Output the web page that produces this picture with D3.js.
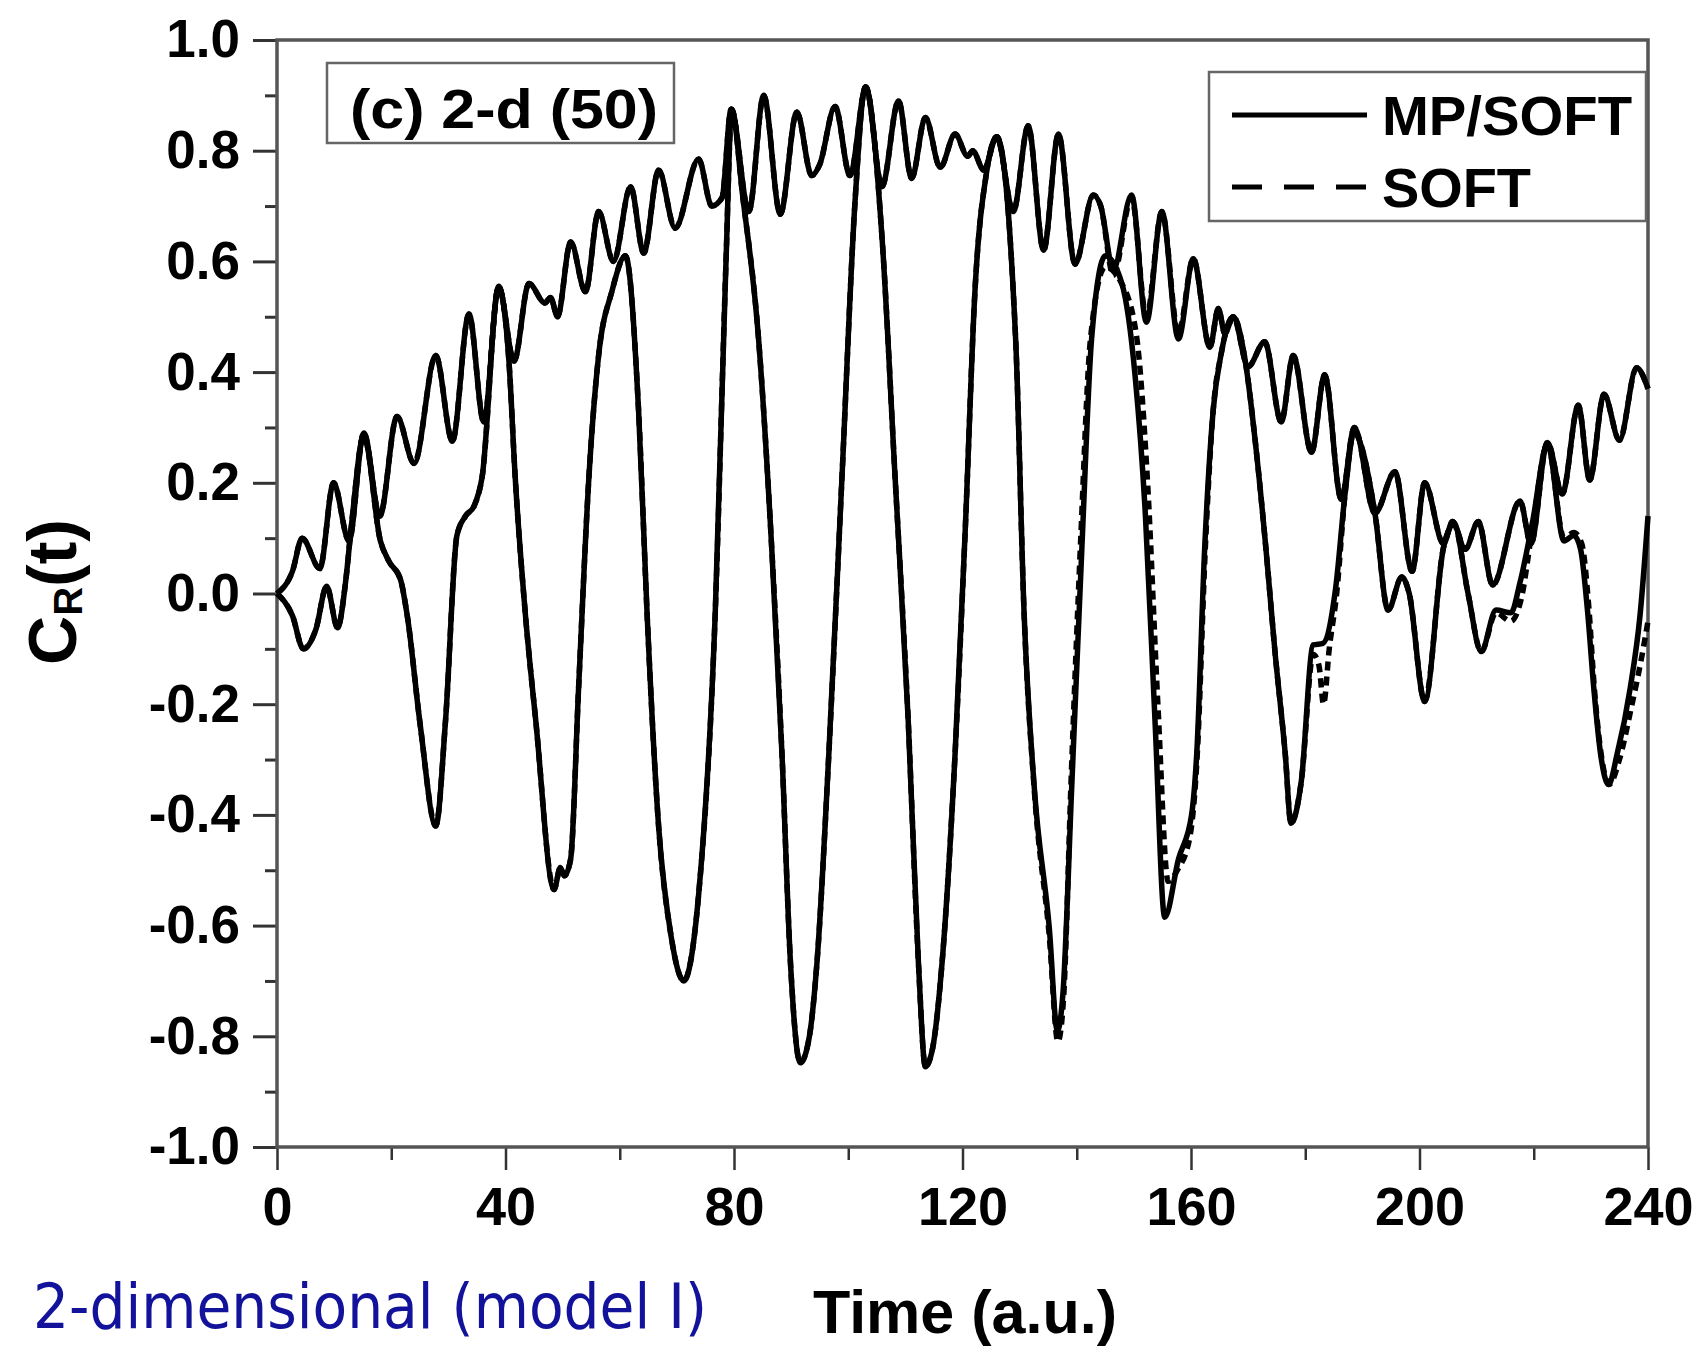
<!DOCTYPE html>
<html>
<head>
<meta charset="utf-8">
<script src="https://cdn.jsdelivr.net/npm/d3@7"></script>
<style>
  html, body { margin: 0; padding: 0; background: #fff; }
  svg { display: block; }
</style>
</head>
<body>
<svg id="chart" width="1704" height="1346"></svg>
<script>
// ---------------- data (time in a.u., value C_R) ----------------
const seriesNames = ["MP/SOFT", "SOFT"];
const panelLabel = "(c) 2-d (50)";
const xAxisTitle = "Time (a.u.)";
const captionText = "2-dimensional (model I)";

const xTickValues = [0, 40, 80, 120, 160, 200, 240];
const xMinorTicks = [20, 60, 100, 140, 180, 220];
const yTickValues = [-1.0, -0.8, -0.6, -0.4, -0.2, 0.0, 0.2, 0.4, 0.6, 0.8, 1.0];
const yTickLabels = ["-1.0", "-0.8", "-0.6", "-0.4", "-0.2", "0.0", "0.2", "0.4", "0.6", "0.8", "1.0"];
const yMinorTicks = [-0.9, -0.7, -0.5, -0.3, -0.1, 0.1, 0.3, 0.5, 0.7, 0.9];

// MP/SOFT: slowly varying upper curve
const mpSoftUpper = [[0,0],[2.7,0.04],[4.4,0.10],[7.5,0.045],[9.9,0.20],[12.6,0.095],[15.2,0.29],[18.0,0.14],[21.0,0.32],[24.0,0.235],[27.8,0.43],[30.7,0.275],[33.6,0.505],[36.2,0.31],[38.8,0.555],[41.5,0.42],[44.1,0.56],[46.9,0.525],[47.9,0.535],[49.1,0.50],[51.4,0.635],[54.0,0.545],[56.3,0.69],[58.9,0.60],[61.9,0.735],[64.2,0.615],[66.8,0.765],[69.7,0.66],[73.8,0.785],[76.1,0.70],[77.9,0.715],[79.5,0.875],[82.6,0.69],[85.2,0.90],[88.1,0.685],[91.0,0.87],[93.6,0.755],[95.0,0.775],[97.7,0.88],[100.3,0.755],[103.1,0.915],[105.9,0.735],[108.8,0.89],[111.1,0.75],[113.5,0.86],[116.1,0.77],[118.7,0.83],[120.9,0.79],[121.8,0.80],[123.7,0.765],[126.0,0.825],[128.9,0.69],[131.5,0.845],[134.2,0.62],[136.8,0.83],[139.7,0.595],[142.9,0.72],[144.2,0.70],[146.4,0.585],[149.6,0.72],[152.2,0.49],[154.9,0.69],[157.8,0.46],[160.4,0.605],[163.3,0.445],[164.8,0.515],[165.9,0.47],[167.4,0.50],[170.0,0.41],[172.9,0.455],[175.8,0.31],[177.9,0.43],[181.1,0.255],[183.4,0.395],[186.3,0.17],[188.6,0.30],[192.2,0.145],[195.7,0.22],[198.7,0.04],[200.9,0.20],[204.2,0.09],[205.8,0.13],[208.0,0.08],[210.3,0.13],[212.8,0.015],[217.6,0.167],[219.5,0.09],[222.4,0.273],[225.0,0.18],[227.8,0.34],[229.8,0.205],[232.3,0.36],[235.0,0.277],[238.0,0.408],[240,0.37]];

// MP/SOFT: strongly oscillating curve
const mpSoftLower = [[0,0],[2.7,-0.04],[4.6,-0.10],[6.8,-0.065],[8.7,0.013],[10.6,-0.062],[12.0,0.02],[13.0,0.12],[15.2,0.285],[18.1,0.095],[19.6,0.058],[21.6,0.026],[22.8,-0.04],[25.1,-0.24],[27.8,-0.42],[29.5,-0.23],[31.5,0.105],[33.0,0.14],[34.5,0.158],[35.9,0.21],[38.8,0.553],[40.6,0.42],[41.7,0.21],[43.5,-0.04],[45.3,-0.23],[48.5,-0.535],[49.6,-0.495],[50.3,-0.51],[51.4,-0.48],[52.8,-0.17],[54.6,0.21],[56.3,0.43],[58.6,0.545],[61.0,0.61],[63.3,0.33],[64.8,-0.04],[66.8,-0.42],[69.0,-0.62],[71.2,-0.70],[73.8,-0.545],[76.7,-0.04],[78.6,0.60],[79.6,0.875],[81.5,0.72],[84.3,0.46],[86.6,0.083],[88.4,-0.29],[89.9,-0.67],[91.6,-0.848],[93.2,-0.80],[94.5,-0.67],[96.6,-0.29],[98.9,0.21],[101.2,0.71],[103.0,0.915],[105.9,0.645],[108.2,0.21],[110.5,-0.23],[112.3,-0.67],[113.5,-0.855],[114.8,-0.82],[116.4,-0.67],[118.7,-0.29],[120.5,0.12],[122.2,0.55],[124.2,0.76],[126.0,0.825],[129.3,0.46],[130.8,-0.04],[132.6,-0.355],[135.2,-0.605],[136.6,-0.79],[137.6,-0.72],[139.1,-0.355],[140.9,0.083],[142.6,0.46],[145.0,0.61],[147.9,0.56],[150.2,0.395],[152.0,0.145],[153.7,-0.23],[155.4,-0.585],[157.8,-0.48],[160.1,-0.40],[161.0,-0.29],[162.4,0.083],[163.9,0.333],[165.3,0.434],[167.4,0.50],[169.5,0.42],[171.3,0.27],[173.1,0.083],[174.7,-0.105],[176.5,-0.29],[177.5,-0.415],[179.3,-0.34],[181.4,-0.093],[183.1,-0.09],[185.3,0.008],[187.0,0.183],[188.5,0.29],[192.2,0.145],[194.5,-0.03],[196.9,0.03],[198.2,0.0],[200.9,-0.195],[204.2,0.083],[206.0,0.125],[208.5,0.0],[210.8,-0.105],[213.4,-0.03],[216.0,-0.035],[217.6,0.02],[219.8,0.13],[222.4,0.27],[225.3,0.095],[227.0,0.105],[228.2,0.08],[229.4,-0.03],[230.5,-0.17],[231.7,-0.29],[233.1,-0.345],[234.6,-0.29],[236.9,-0.17],[238.6,-0.04],[240,0.14]];

// SOFT: upper curve
const softUpper = [[0,0],[2.7,0.04],[4.4,0.10],[7.5,0.045],[9.9,0.20],[12.6,0.095],[15.2,0.29],[18.0,0.14],[21.0,0.32],[24.0,0.235],[27.8,0.43],[30.7,0.275],[33.6,0.505],[36.2,0.31],[38.8,0.555],[41.5,0.42],[44.1,0.56],[46.9,0.525],[47.9,0.535],[49.1,0.50],[51.4,0.635],[54.0,0.545],[56.3,0.69],[58.9,0.60],[61.9,0.735],[64.2,0.615],[66.8,0.765],[69.7,0.66],[73.8,0.785],[76.1,0.70],[77.9,0.715],[79.5,0.875],[82.6,0.69],[85.2,0.90],[88.1,0.685],[91.0,0.87],[93.6,0.755],[95.0,0.775],[97.7,0.88],[100.3,0.755],[103.1,0.915],[105.9,0.735],[108.8,0.89],[111.1,0.75],[113.5,0.86],[116.1,0.77],[118.7,0.83],[120.9,0.79],[121.8,0.80],[123.7,0.765],[126.0,0.825],[128.9,0.69],[131.5,0.845],[134.2,0.62],[136.8,0.83],[139.7,0.595],[142.9,0.72],[144.2,0.70],[146.4,0.575],[149.6,0.715],[152.2,0.50],[154.9,0.69],[157.8,0.47],[160.4,0.605],[163.3,0.445],[164.8,0.515],[165.9,0.47],[167.4,0.50],[170.0,0.41],[172.9,0.455],[175.8,0.31],[177.9,0.43],[181.1,0.255],[183.4,0.395],[186.3,0.17],[188.6,0.30],[192.2,0.145],[195.7,0.22],[198.7,0.04],[200.9,0.20],[204.2,0.09],[205.8,0.13],[208.0,0.08],[210.3,0.13],[212.8,0.015],[217.6,0.167],[219.5,0.09],[222.4,0.273],[225.0,0.18],[227.8,0.34],[229.8,0.205],[232.3,0.36],[235.0,0.277],[238.0,0.408],[240,0.37]];

// SOFT: strongly oscillating curve
const softLower = [[0,0],[2.7,-0.04],[4.6,-0.10],[6.8,-0.065],[8.7,0.013],[10.6,-0.062],[12.0,0.02],[13.0,0.12],[15.2,0.285],[18.1,0.095],[19.6,0.058],[21.6,0.026],[22.8,-0.04],[25.1,-0.24],[27.8,-0.42],[29.5,-0.23],[31.5,0.105],[33.0,0.14],[34.5,0.158],[35.9,0.21],[38.8,0.553],[40.6,0.42],[41.7,0.21],[43.5,-0.04],[45.3,-0.23],[48.5,-0.535],[49.6,-0.495],[50.3,-0.51],[51.4,-0.48],[52.8,-0.17],[54.6,0.21],[56.3,0.43],[58.6,0.545],[61.0,0.61],[63.3,0.33],[64.8,-0.04],[66.8,-0.42],[69.0,-0.62],[71.2,-0.70],[73.8,-0.545],[76.7,-0.04],[78.6,0.60],[79.6,0.875],[81.5,0.72],[84.3,0.46],[86.6,0.083],[88.4,-0.29],[89.9,-0.67],[91.6,-0.848],[93.2,-0.80],[94.5,-0.67],[96.6,-0.29],[98.9,0.21],[101.2,0.71],[103.0,0.915],[105.9,0.645],[108.2,0.21],[110.5,-0.23],[112.3,-0.67],[113.5,-0.855],[114.8,-0.82],[116.4,-0.67],[118.7,-0.29],[120.5,0.12],[122.2,0.55],[124.2,0.76],[126.0,0.825],[129.3,0.46],[130.8,-0.04],[132.6,-0.36],[135.2,-0.62],[136.7,-0.81],[137.7,-0.73],[139.0,-0.34],[140.7,0.10],[142.4,0.46],[145.0,0.59],[147.6,0.565],[150.4,0.47],[152.4,0.20],[154.2,-0.20],[156.0,-0.52],[157.6,-0.50],[159.8,-0.44],[161.1,-0.29],[162.5,0.08],[163.9,0.333],[165.3,0.434],[167.4,0.50],[169.5,0.42],[171.3,0.27],[173.1,0.083],[174.7,-0.105],[176.5,-0.29],[177.5,-0.415],[179.3,-0.34],[181.4,-0.11],[182.4,-0.13],[183.2,-0.20],[184.2,-0.10],[185.5,0.0],[187.0,0.183],[188.5,0.29],[192.2,0.145],[194.5,-0.03],[196.9,0.03],[198.2,0.0],[200.9,-0.195],[204.2,0.083],[206.0,0.125],[208.5,0.0],[210.8,-0.105],[213.4,-0.035],[216.0,-0.05],[217.8,-0.01],[219.8,0.12],[222.4,0.27],[225.3,0.10],[227.0,0.11],[228.4,0.09],[229.6,-0.02],[230.6,-0.17],[231.8,-0.29],[233.2,-0.345],[235.0,-0.30],[237.0,-0.21],[238.8,-0.12],[240,-0.05]];

// ---------------- drawing ----------------
const FONT = "'Liberation Sans', Arial, Helvetica, sans-serif";
const svg = d3.select("#chart");

const x = d3.scaleLinear().domain([0, 240]).range([277, 1648]);
const y = d3.scaleLinear().domain([-1, 1]).range([1147, 40]);

// y axis (major + minor)
const yAxis = d3.axisLeft(y).tickValues(yTickValues).tickSize(24).tickPadding(13)
  .tickFormat((d, i) => yTickLabels[i]);
const gy = svg.append("g").attr("transform", `translate(${x(0)},0)`).call(yAxis);
gy.select(".domain").remove();
gy.selectAll("line").attr("stroke", "#333").attr("stroke-width", 3);
gy.selectAll("text").attr("font-family", FONT).attr("font-size", 53)
  .attr("font-weight", "bold").attr("fill", "#000");

const gyMinor = svg.append("g").attr("transform", `translate(${x(0)},0)`)
  .call(d3.axisLeft(y).tickValues(yMinorTicks).tickSize(12).tickFormat(""));
gyMinor.select(".domain").remove();
gyMinor.selectAll("line").attr("stroke", "#333").attr("stroke-width", 3);

// x axis (major + minor)
const xAxis = d3.axisBottom(x).tickValues(xTickValues).tickSize(23).tickPadding(17)
  .tickFormat(d => String(d));
const gx = svg.append("g").attr("transform", `translate(0,${y(-1)})`).call(xAxis);
gx.select(".domain").remove();
gx.selectAll("line").attr("stroke", "#333").attr("stroke-width", 2.5);
gx.selectAll("text").attr("font-family", FONT).attr("font-size", 54)
  .attr("font-weight", "bold").attr("fill", "#000");

const gxMinor = svg.append("g").attr("transform", `translate(0,${y(-1)})`)
  .call(d3.axisBottom(x).tickValues(xMinorTicks).tickSize(13).tickFormat(""));
gxMinor.select(".domain").remove();
gxMinor.selectAll("line").attr("stroke", "#333").attr("stroke-width", 2.5);

// frame
svg.append("rect")
  .attr("x", x(0)).attr("y", y(1))
  .attr("width", x(240) - x(0)).attr("height", y(-1) - y(1))
  .attr("fill", "none").attr("stroke", "#555").attr("stroke-width", 3.5);

// curves
const line = d3.line().x(d => x(d[0])).y(d => y(d[1])).curve(d3.curveMonotoneX);
const curves = [
  { data: mpSoftUpper, dash: null },
  { data: mpSoftLower, dash: null },
  { data: softUpper, dash: "9,6" },
  { data: softLower, dash: "9,6" }
];
svg.append("g").selectAll("path").data(curves).join("path")
  .attr("d", d => line(d.data))
  .attr("fill", "none")
  .attr("stroke", "#000")
  .attr("stroke-width", 5.5)
  .attr("stroke-linejoin", "round")
  .attr("stroke-dasharray", d => d.dash);

// panel label box
svg.append("rect").attr("x", 327).attr("y", 63).attr("width", 347).attr("height", 80)
  .attr("fill", "#fff").attr("stroke", "#666").attr("stroke-width", 2.5);
svg.append("text").attr("x", 350).attr("y", 128)
  .attr("font-family", FONT).attr("font-size", 56).attr("font-weight", "bold")
  .attr("textLength", 308).attr("lengthAdjust", "spacingAndGlyphs")
  .text(panelLabel);

// legend
svg.append("rect").attr("x", 1209).attr("y", 72).attr("width", 437).attr("height", 149)
  .attr("fill", "#fff").attr("stroke", "#666").attr("stroke-width", 2.5);
const legendRows = [
  { name: seriesNames[0], dash: null, ly: 115, ty: 135, len: 250 },
  { name: seriesNames[1], dash: "30,22", ly: 187, ty: 207, len: 149 }
];
legendRows.forEach(r => {
  svg.append("line").attr("x1", 1232).attr("x2", 1367).attr("y1", r.ly).attr("y2", r.ly)
    .attr("stroke", "#000").attr("stroke-width", 5).attr("stroke-dasharray", r.dash);
  svg.append("text").attr("x", 1382).attr("y", r.ty)
    .attr("font-family", FONT).attr("font-size", 56).attr("font-weight", "bold")
    .attr("textLength", r.len).attr("lengthAdjust", "spacingAndGlyphs")
    .text(r.name);
});

// y axis title  C_R(t)
const yTitle = svg.append("text")
  .attr("transform", "translate(76,592) rotate(-90)")
  .attr("text-anchor", "middle")
  .attr("font-family", FONT).attr("font-weight", "bold").attr("fill", "#000");
yTitle.append("tspan").attr("font-size", 68).text("C");
yTitle.append("tspan").attr("font-size", 40).attr("dy", 6).text("R");
yTitle.append("tspan").attr("font-size", 68).attr("dy", -6).text("(t)");

// x axis title
svg.append("text").attr("x", 813).attr("y", 1333)
  .attr("font-family", FONT).attr("font-size", 61).attr("font-weight", "bold")
  .attr("textLength", 304).attr("lengthAdjust", "spacingAndGlyphs")
  .text(xAxisTitle);

// caption
svg.append("text").attr("x", 33).attr("y", 1328)
  .attr("font-family", "'DejaVu Sans', Verdana, sans-serif").attr("font-size", 62)
  .attr("fill", "#12129a")
  .attr("textLength", 674).attr("lengthAdjust", "spacingAndGlyphs")
  .text(captionText);
</script>
</body>
</html>
